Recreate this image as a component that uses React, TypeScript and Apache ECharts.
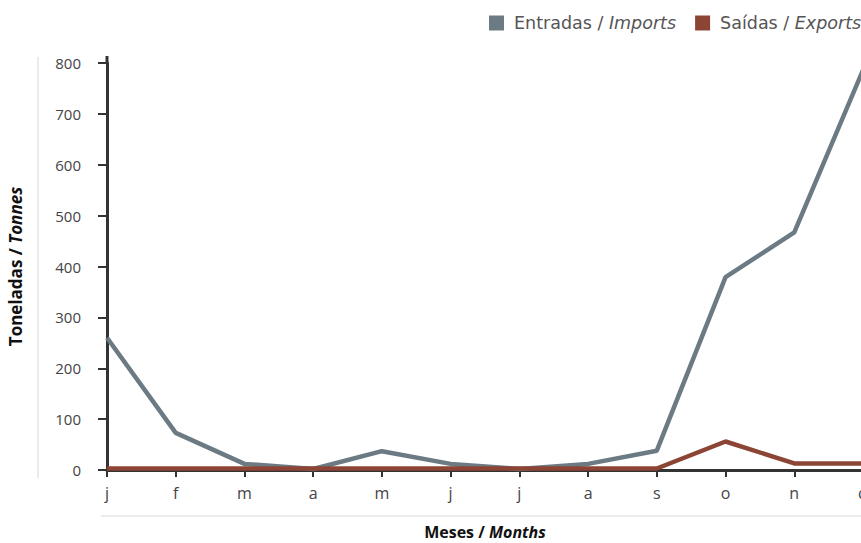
import React, { useEffect, useRef } from "react";
import * as echarts from "echarts";

const months = ["j", "f", "m", "a", "m", "j", "j", "a", "s", "o", "n", "d"];
const imports = [260, 73, 12, 2, 37, 12, 2, 12, 38, 379, 467, 786];
const exports = [3, 3, 3, 3, 3, 3, 3, 3, 3, 56, 13, 13];
const yTicks = { min: 0, max: 800, interval: 100 };

const FONT = "'Open Sans', sans-serif";
const LFONT = "'DejaVu Sans', sans-serif";

export default function App() {
  const ref = useRef<HTMLDivElement>(null);
  useEffect(() => {
    if (!ref.current) return;
    const chart = echarts.init(ref.current, null, { renderer: "svg" });
    chart.setOption({
      animation: false,
      textStyle: { fontFamily: FONT },
      legend: {
        left: 484,
        top: 9,
        width: 420,
        orient: "horizontal",
        itemWidth: 15,
        itemHeight: 15,
        itemGap: 19,
        icon: "rect",
        textStyle: {
          fontFamily: LFONT,
          fontSize: 17.5,
          color: "#555",
          rich: {
            n: { fontFamily: LFONT, fontSize: 17.5, color: "#555", padding: [0, 0, 0, 5] },
            i: { fontFamily: LFONT, fontSize: 17.5, color: "#555", fontStyle: "italic" },
          },
        },
        formatter: (name: string) => {
          const [a, b] = name.split(" / ");
          return `{n|${a} / }{i|${b}}`;
        },
        data: ["Entradas / Imports", "Saídas / Exports"],
      },
      grid: { left: 107, top: 63, width: 756, height: 407, containLabel: false, outerBoundsMode: "none" },
      xAxis: {
        type: "category",
        data: months,
        boundaryGap: false,
        name: "{b|Meses / }{bi|Months}",
        nameLocation: "middle",
        nameGap: 54,
        nameTextStyle: {
          rich: {
            b: { fontFamily: FONT, fontSize: 16, lineHeight: 16, fontWeight: "bold", color: "#111" },
            bi: { fontFamily: FONT, fontSize: 16, lineHeight: 16, fontWeight: "bold", fontStyle: "italic", color: "#111" },
          },
        },
        axisLine: { lineStyle: { color: "#333", width: 3 } },
        axisTick: { show: true, length: 7, lineStyle: { color: "#333", width: 2 } },
        axisLabel: { color: "#444", fontSize: 16, margin: 15, fontFamily: FONT },
        splitLine: { show: false },
      },
      yAxis: {
        type: "value",
        min: yTicks.min,
        max: yTicks.max,
        interval: yTicks.interval,
        name: "{b|Toneladas / }{bi|Tonnes}",
        nameLocation: "middle",
        nameRotate: 90,
        nameGap: 83,
        nameTextStyle: {
          rich: {
            b: { fontFamily: FONT, fontSize: 17, fontWeight: "bold", color: "#111" },
            bi: { fontFamily: FONT, fontSize: 17, fontWeight: "bold", fontStyle: "italic", color: "#111" },
          },
        },
        axisLine: { show: true, lineStyle: { color: "#333", width: 3 } },
        axisTick: { show: true, length: 9, lineStyle: { color: "#333", width: 2 } },
        axisLabel: { color: "#444", fontSize: 15, margin: 26, fontFamily: FONT },
        splitLine: { show: false },
      },
      graphic: [
        { type: "line", shape: { x1: 38, y1: 57, x2: 38, y2: 478 }, style: { stroke: "#e4e4e4", lineWidth: 1.5 } },
        { type: "line", shape: { x1: 101, y1: 516, x2: 861, y2: 516 }, style: { stroke: "#e4e4e4", lineWidth: 1.5 } },
        { type: "line", shape: { x1: 107, y1: 56, x2: 107, y2: 64 }, style: { stroke: "#333", lineWidth: 3 } },
      ],
      series: [
        {
          name: "Entradas / Imports",
          type: "line",
          data: imports,
          symbol: "none",
          color: "#6b7a83",
          lineStyle: { width: 4.5, color: "#6b7a83" },
          z: 3,
        },
        {
          name: "Saídas / Exports",
          type: "line",
          data: exports,
          symbol: "none",
          color: "#8c4434",
          lineStyle: { width: 4.5, color: "#8c4434" },
          z: 4,
        },
      ],
    });
    return () => chart.dispose();
  }, []);
  return <div ref={ref} style={{ width: 861, height: 543, position: "absolute", left: 0, top: 0 }} />;
}
